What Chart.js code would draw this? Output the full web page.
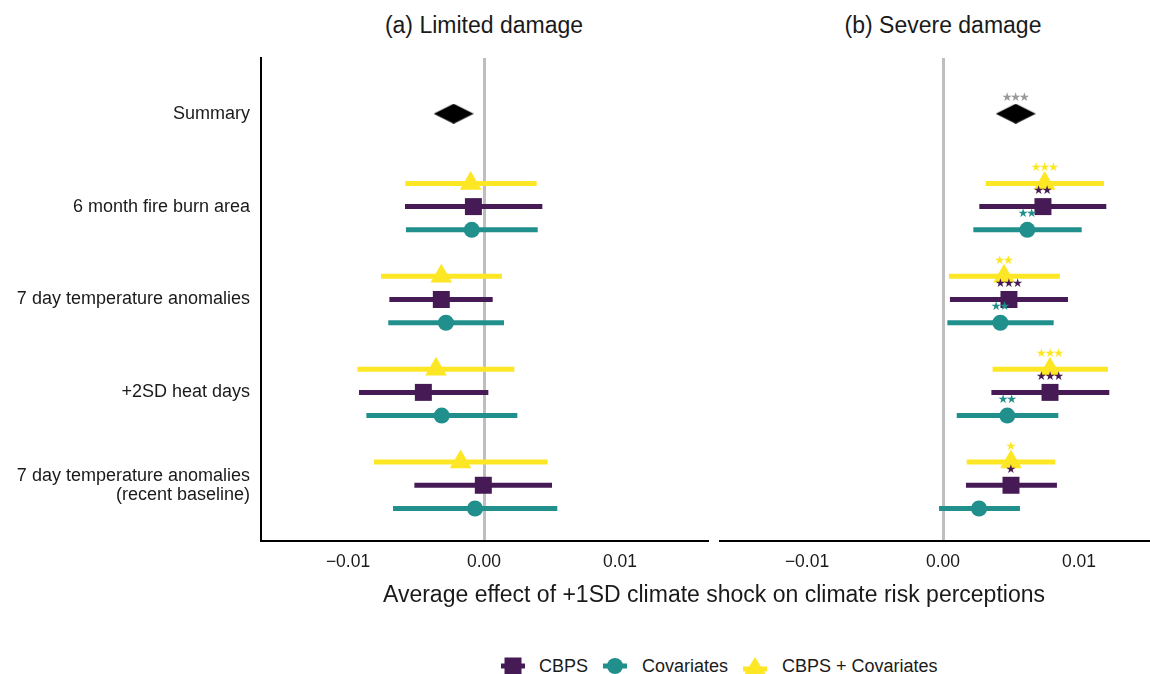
<!DOCTYPE html>
<html>
<head>
<meta charset="utf-8">
<script src="https://cdn.jsdelivr.net/npm/chart.js@4/dist/chart.umd.min.js"></script>
<style>
  html, body { margin: 0; padding: 0; background: #fff; overflow: hidden; }
  #page { position: relative; width: 1150px; height: 674px; overflow: hidden;
          font-family: "Liberation Sans", Arial, sans-serif; color: #1a1a1a; }
  canvas { position: absolute; }
  .title { position: absolute; top: 11px; line-height: 28px; font-size: 23px;
           transform: translateX(-50%); white-space: nowrap; }
  .xtitle { position: absolute; top: 580px; left: 714px; line-height: 28px; font-size: 23px;
            transform: translateX(-50%); white-space: nowrap; }
  .leg-icon { position: absolute; top: 656px; width: 24px; height: 20px; }
  .leg-text { position: absolute; top: 655px; line-height: 22px; font-size: 18px; white-space: nowrap; }
</style>
</head>
<body>
<div id="page">
  <div class="title" style="left:484px">(a) Limited damage</div>
  <div class="title" style="left:943px">(b) Severe damage</div>
  <canvas id="chartA" width="710" height="541" style="left:0;top:40px"></canvas>
  <canvas id="chartB" width="454" height="541" style="left:712px;top:40px"></canvas>
  <div class="xtitle">Average effect of +1SD climate shock on climate risk perceptions</div>

  <svg class="leg-icon" style="left:501px" viewBox="0 0 24 20">
    <line x1="0" y1="10" x2="24" y2="10" stroke="#451a55" stroke-width="5"/>
    <rect x="3.5" y="1.5" width="17" height="17" fill="#451a55"/>
  </svg>
  <div class="leg-text" style="left:539px">CBPS</div>
  <svg class="leg-icon" style="left:603px" viewBox="0 0 24 20">
    <line x1="0" y1="10" x2="24" y2="10" stroke="#21908c" stroke-width="5"/>
    <circle cx="12" cy="10" r="8" fill="#21908c"/>
  </svg>
  <div class="leg-text" style="left:642px">Covariates</div>
  <svg class="leg-icon" style="left:743px" viewBox="0 0 24 20">
    <line x1="0" y1="13" x2="24" y2="13" stroke="#fde725" stroke-width="5"/>
    <polygon points="12,1 23,19 1,19" fill="#fde725"/>
  </svg>
  <div class="leg-text" style="left:782px">CBPS + Covariates</div>
</div>

<script>
// rows, top to bottom (Summary is row 0)
const categories = ['Summary', '6 month fire burn area', '7 day temperature anomalies',
                    '+2SD heat days', '7 day temperature anomalies\n(recent baseline)'];
const xTicks = [-0.01, 0, 0.01];

// (a) Limited damage
const summaryA = -0.00223;
const cbpsEstA = [-0.00078, -0.00314, -0.00446, -0.00005];
const cbpsLoA  = [-0.00581, -0.00696, -0.00919, -0.00512];
const cbpsHiA  = [ 0.00429,  0.00064,  0.00032,  0.00500];
const covEstA  = [-0.00090, -0.00280, -0.00311, -0.00066];
const covLoA   = [-0.00574, -0.00704, -0.00865, -0.00669];
const covHiA   = [ 0.00395,  0.00147,  0.00245,  0.00539];
const bothEstA = [-0.00098, -0.00314, -0.00353, -0.00172];
const bothLoA  = [-0.00579, -0.00757, -0.00931, -0.00809];
const bothHiA  = [ 0.00387,  0.00132,  0.00223,  0.00468];

// (b) Severe damage
const summaryB = 0.00535;
const summaryStarsB = '***';
const cbpsEstB = [0.00735, 0.00485, 0.00787, 0.00500];
const cbpsLoB  = [0.00267, 0.00051, 0.00356, 0.00169];
const cbpsHiB  = [0.01201, 0.00919, 0.01223, 0.00838];
const cbpsStarsB = ['**', '***', '***', '*'];
const covEstB  = [0.00620, 0.00422, 0.00473, 0.00265];
const covLoB   = [0.00223, 0.00032, 0.00101, -0.00029];
const covHiB   = [0.01020, 0.00814, 0.00848, 0.00566];
const covStarsB = ['**', '**', '**', ''];
const bothEstB = [0.00748, 0.00449, 0.00787, 0.00500];
const bothLoB  = [0.00314, 0.00044, 0.00365, 0.00174];
const bothHiB  = [0.01184, 0.00860, 0.01213, 0.00826];
const bothStarsB = ['***', '**', '***', '*'];

const PURPLE = '#451a55', TEAL = '#21908c', YELLOW = '#fde725';

Chart.defaults.font.family = '"Liberation Sans", Arial, sans-serif';
Chart.defaults.animation = false;

// diamond marker for the summary row
const diamond = document.createElement('canvas');
diamond.width = 40; diamond.height = 20;
(function() {
    const c = diamond.getContext('2d');
    c.fillStyle = '#000';
    c.beginPath();
    c.moveTo(0, 10); c.lineTo(20, 0); c.lineTo(40, 10); c.lineTo(20, 20);
    c.closePath(); c.fill();
})();

// horizontal CI lines, drawn under the markers
const errorBars = {
    id: 'errorBars',
    beforeDatasetsDraw(chart) {
        const { ctx, scales: { x, y } } = chart;
        chart.data.datasets.forEach(ds => {
            if (!ds.lo) return;
            ctx.save();
            ctx.strokeStyle = ds.backgroundColor;
            ctx.lineWidth = 5;
            ds.data.forEach((p, i) => {
                const py = y.getPixelForValue(p.y);
                ctx.beginPath();
                ctx.moveTo(x.getPixelForValue(ds.lo[i]), py);
                ctx.lineTo(x.getPixelForValue(ds.hi[i]), py);
                ctx.stroke();
            });
            ctx.restore();
        });
    }
};

// significance stars above points, one glyph per star
const starLabels = {
    id: 'starLabels',
    afterDatasetsDraw(chart) {
        const { ctx, scales: { x, y } } = chart;
        ctx.save();
        ctx.font = '12px "DejaVu Sans"';
        ctx.textAlign = 'center';
        ctx.textBaseline = 'middle';
        chart.data.datasets.forEach(ds => {
            if (!ds.stars) return;
            ctx.fillStyle = ds.starColor;
            ds.data.forEach((p, i) => {
                const n = (ds.stars[i] || '').length;
                const px = x.getPixelForValue(p.x), py = y.getPixelForValue(p.y) - 15.5;
                for (let k = 0; k < n; k++) {
                    ctx.fillText('\u2605', px + (k - (n - 1) / 2) * 8.6, py);
                }
            });
        });
        ctx.restore();
    }
};

function series(est, offset) {
    return est.map((v, i) => ({ x: v, y: i + 1 + offset }));
}

function buildDatasets(summary, summaryStars, cbps, cov, both) {
    return [
        { label: 'CBPS + Covariates', data: series(both.est, -0.25), lo: both.lo, hi: both.hi,
          stars: both.stars, starColor: YELLOW,
          backgroundColor: YELLOW, borderWidth: 0, pointStyle: 'triangle', pointRadius: 12.5 },
        { label: 'CBPS', data: series(cbps.est, 0), lo: cbps.lo, hi: cbps.hi,
          stars: cbps.stars, starColor: PURPLE,
          backgroundColor: PURPLE, borderWidth: 0, pointStyle: 'rect', pointRadius: 12 },
        { label: 'Covariates', data: series(cov.est, 0.25), lo: cov.lo, hi: cov.hi,
          stars: cov.stars, starColor: TEAL,
          backgroundColor: TEAL, borderWidth: 0, pointStyle: 'circle', pointRadius: 8 },
        { label: 'Summary', data: [{ x: summary, y: 0 }],
          stars: summaryStars ? [summaryStars] : null, starColor: '#999999',
          backgroundColor: '#000', borderWidth: 0, pointStyle: diamond, pointRadius: 10 }
    ];
}

function xScale() {
    return {
        type: 'linear', min: -0.0164, max: 0.0164,
        afterBuildTicks: s => { s.ticks = xTicks.map(v => ({ value: v })); },
        // fixed height, no extra side padding from the tick labels
        afterFit: s => { s.height = 40; s.paddingLeft = 0; s.paddingRight = 0; },
        grid: { drawTicks: false, lineWidth: 3,
                color: c => (c.tick && c.tick.value === 0) ? '#bebebe' : 'rgba(0,0,0,0)' },
        border: { display: true, color: '#000', width: 2 },
        ticks: { padding: 11, color: '#1a1a1a', font: { size: 17.5 },
                 callback: v => v === 0 ? '0.00' : (v < 0 ? '\u2212' : '') + Math.abs(v).toFixed(2) }
    };
}

function makeChart(id, datasets, showY, pad) {
    const yAxis = {
        type: 'linear', reverse: true, min: -0.6, max: 4.6, display: showY,
        afterBuildTicks: s => { s.ticks = categories.map((c, i) => ({ value: i })); },
        afterFit: s => {
            if (showY) s.width = 261;
            s.paddingTop = 0; s.paddingBottom = 0;
        },
        grid: { display: false, drawTicks: false },
        border: { display: true, color: '#000', width: 2 },
        ticks: { padding: 11, color: '#1a1a1a', font: { size: 18, lineHeight: 1.05 },
                 callback: v => categories[v].split('\n') }
    };
    return new Chart(document.getElementById(id), {
        type: 'scatter',
        data: { datasets: datasets },
        options: {
            responsive: false,
            layout: { padding: pad, autoPadding: false },
            plugins: { legend: { display: false }, tooltip: { enabled: false } },
            scales: { x: xScale(), y: yAxis }
        },
        plugins: [errorBars, starLabels]
    });
}

makeChart('chartA',
    buildDatasets(summaryA, null,
        { est: cbpsEstA, lo: cbpsLoA, hi: cbpsHiA },
        { est: covEstA, lo: covLoA, hi: covHiA },
        { est: bothEstA, lo: bothLoA, hi: bothHiA }),
    true, { top: 18, right: 3, left: 0, bottom: 0 });

makeChart('chartB',
    buildDatasets(summaryB, summaryStarsB,
        { est: cbpsEstB, lo: cbpsLoB, hi: cbpsHiB, stars: cbpsStarsB },
        { est: covEstB, lo: covLoB, hi: covHiB, stars: covStarsB },
        { est: bothEstB, lo: bothLoB, hi: bothHiB, stars: bothStarsB }),
    false, { top: 18, right: 0, left: 8, bottom: 0 });
</script>
</body>
</html>
